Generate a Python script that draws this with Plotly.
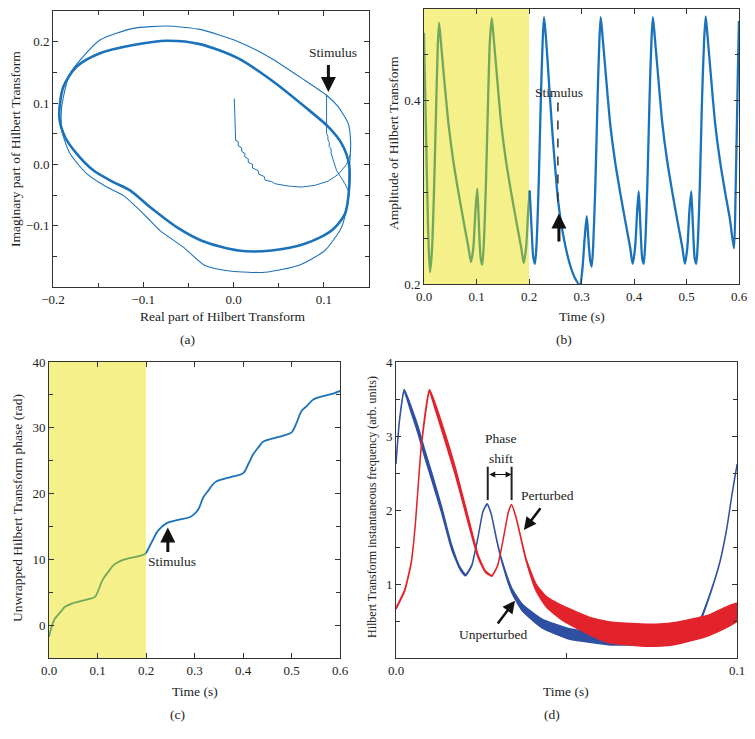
import plotly.graph_objects as go

SERIF = "Liberation Serif"
BLUE = "#1a72bb"
GREEN = "#72a85c"
YELLOW = "#f6f08a"
D_BLUE = "#2e4fa3"
D_RED = "#e3232b"

W, H = 755, 739
OFF = 8  # page body margin offsets the figure

# ---- (a) Hilbert transform phase portrait ----
loop_x = [-0.193, -0.1886, -0.174, -0.148, -0.111, -0.074, -0.0372, 0.0052, 0.042, 0.079,
          0.105, 0.1197, 0.1278, 0.1278, 0.1234, 0.1086, 0.079, 0.042, 0.0052, -0.0345,
          -0.063, -0.0926, -0.1147, -0.1332, -0.1554, -0.1738, -0.1867, -0.193]
loop_y = [0.077, 0.126, 0.159, 0.181, 0.1945, 0.2015, 0.196, 0.1727, 0.137, 0.0937,
          0.061, 0.0338, 0.001, -0.0425, -0.0806, -0.108, -0.1296, -0.1405, -0.1405, -0.125,
          -0.1024, -0.0697, -0.0425, -0.029, -0.0098, 0.0175, 0.0446, 0.077]

outer_x = [0.103, 0.116, 0.127, 0.1297, 0.128, 0.127, 0.1197, 0.1012, 0.0717, 0.0348, -0.0021,
           -0.0317, -0.0557, -0.0815, -0.0926, -0.1037, -0.122, -0.1405, -0.1627, -0.1812, -0.1904,
           -0.1904, -0.1812, -0.148, -0.111, -0.074, -0.0372, 0.0052, 0.042, 0.079, 0.103]
outer_y = [0.1127, 0.0937, 0.0665, 0.0338, -0.015, -0.059, -0.1024, -0.1405, -0.165, -0.176, -0.1743,
           -0.165, -0.135, -0.108, -0.0915, -0.075, -0.051, -0.037, -0.0152, 0.0175, 0.0556,
           0.0936, 0.148, 0.2026, 0.2217, 0.2255, 0.22, 0.2, 0.1727, 0.137, 0.1127]

trans_x = [0.0008, 0.0023, 0.0052, 0.0052, 0.009, 0.009, 0.0125, 0.0125, 0.0163, 0.0163, 0.021, 0.021,
           0.027, 0.028, 0.034, 0.035, 0.042, 0.0458, 0.0606, 0.0754, 0.090, 0.1049, 0.116, 0.1252, 0.1297]
trans_y = [0.1073, 0.039, 0.037, 0.030, 0.027, 0.021, 0.018, 0.012, 0.009, 0.003, 0.0, -0.006,
           -0.010, -0.016, -0.020, -0.026, -0.028, -0.0316, -0.0354, -0.0371, -0.0343, -0.0273, -0.0163, 0.0, 0.0175]

stim_x = [0.103, 0.103, 0.1045, 0.1045, 0.106, 0.106, 0.108, 0.108, 0.114, 0.1234, 0.1278]
stim_y = [0.1127, 0.05, 0.046, 0.040, 0.036, 0.029, 0.025, 0.018, -0.0098, -0.0316, -0.0452]

# ---- (b) amplitude of Hilbert transform ----
amp_t_pre = [0, 0.004, 0.008, 0.0114, 0.015, 0.019, 0.023, 0.026, 0.0286,
             0.0321, 0.0366, 0.0466, 0.0556, 0.0656, 0.0746, 0.0846, 0.0895,
             0.094, 0.098, 0.1015, 0.1045, 0.108, 0.111,
             0.114, 0.118, 0.122, 0.1255, 0.129,
             0.1325, 0.137, 0.147, 0.156, 0.166, 0.175, 0.185, 0.19,
             0.1945, 0.1985, 0.2013]
amp_v_pre = [0.474, 0.36, 0.255, 0.213, 0.235, 0.30, 0.39, 0.455, 0.485,
             0.465, 0.435, 0.375, 0.335, 0.300, 0.271, 0.24, 0.224,
             0.24, 0.28, 0.304, 0.265, 0.228, 0.221,
             0.245, 0.31, 0.40, 0.465, 0.490,
             0.47, 0.44, 0.375, 0.335, 0.300, 0.271, 0.24, 0.223,
             0.24, 0.28, 0.302]
amp_t_post = [0.2013, 0.2045, 0.208, 0.2114, 0.2145, 0.2185, 0.2225, 0.226, 0.2286,
              0.2321, 0.2368, 0.2432, 0.2495, 0.2558, 0.2653, 0.2781, 0.288, 0.297,
              0.3015, 0.306, 0.310, 0.313, 0.3165, 0.3194,
              0.3225, 0.3265, 0.3305, 0.334, 0.3366,
              0.3401, 0.3446, 0.3546, 0.3636, 0.3736, 0.3826, 0.3926, 0.3975,
              0.4021, 0.4061, 0.409, 0.4121, 0.4156, 0.4185,
              0.4215, 0.4255, 0.4295, 0.4332, 0.436,
              0.4395, 0.444, 0.454, 0.463, 0.473, 0.482, 0.492, 0.497,
              0.5016, 0.5056, 0.509, 0.5121, 0.5156, 0.5186,
              0.5215, 0.5255, 0.5295, 0.5335, 0.5366,
              0.5401, 0.5446, 0.5546, 0.5636, 0.5736, 0.5826, 0.5905,
              0.5935, 0.5962, 0.5985, 0.600]
amp_v_post = [0.302, 0.265, 0.23, 0.222, 0.245, 0.31, 0.40, 0.465, 0.491,
              0.47, 0.431, 0.376, 0.329, 0.289, 0.253, 0.221, 0.206, 0.199,
              0.215, 0.25, 0.274, 0.25, 0.226, 0.219,
              0.245, 0.31, 0.40, 0.465, 0.491,
              0.47, 0.44, 0.375, 0.335, 0.300, 0.271, 0.24, 0.222,
              0.24, 0.28, 0.301, 0.265, 0.228, 0.222,
              0.245, 0.31, 0.40, 0.465, 0.491,
              0.47, 0.44, 0.375, 0.335, 0.300, 0.271, 0.24, 0.222,
              0.24, 0.28, 0.301, 0.265, 0.228, 0.222,
              0.245, 0.31, 0.40, 0.465, 0.492,
              0.47, 0.44, 0.375, 0.335, 0.300, 0.271, 0.239,
              0.30, 0.38, 0.45, 0.487]

# ---- (c) unwrapped phase ----
ph_t_pre = [0, 0.0055, 0.0124, 0.0192, 0.026, 0.033, 0.047, 0.060, 0.081, 0.0948, 0.1017,
            0.107, 0.112, 0.122, 0.1326, 0.15, 0.1705, 0.191, 0.2]
ph_v_pre = [-1.77, -0.25, 1.0, 1.6, 2.2, 2.78, 3.28, 3.54, 3.94, 4.29, 5.3,
            6.3, 7.07, 8.08, 9.09, 9.85, 10.25, 10.6, 10.9]
ph_t_post = [0.2, 0.2117, 0.2254, 0.2427, 0.2666, 0.290, 0.300, 0.308, 0.318, 0.3285, 0.342,
             0.3594, 0.38, 0.4006, 0.411, 0.4213, 0.4316, 0.442, 0.4625, 0.483, 0.5004, 0.5107,
             0.521, 0.5313, 0.545, 0.5656, 0.586, 0.6]
ph_v_post = [10.9, 12.6, 14.4, 15.5, 16.0, 16.4, 16.9, 17.6, 19.4, 20.45, 21.7,
             22.2, 22.6, 23.1, 24.5, 26.0, 27.0, 27.9, 28.4, 28.8, 29.3, 30.8,
             32.6, 33.3, 34.3, 34.8, 35.2, 35.6]

# ---- (d) instantaneous frequency, band = spread over cycles ----
unp_t = [0.0, 0.001, 0.0024, 0.0045, 0.0066, 0.0085, 0.0105, 0.0134, 0.0163, 0.0188, 0.0204,
         0.0222, 0.024, 0.0255, 0.0267, 0.0279, 0.0295, 0.031, 0.0339, 0.0369, 0.0427, 0.0505,
         0.0623, 0.072, 0.0818, 0.0872, 0.0891, 0.092, 0.095, 0.097, 0.0985, 0.1]
unp_v = [2.63, 3.2, 3.61, 3.35, 3.06, 2.75, 2.45, 2.0, 1.50, 1.21, 1.12,
         1.25, 1.62, 1.98, 2.08, 1.95, 1.60, 1.32, 0.92, 0.69, 0.47, 0.33,
         0.25, 0.25, 0.33, 0.42, 0.50, 0.85, 1.30, 1.75, 2.2, 2.62]
unp_spread = [0.01, 0.01, 0.02, 0.04, 0.05, 0.05, 0.05, 0.04, 0.03, 0.015, 0.01,
              0.005, 0.004, 0.004, 0.004, 0.004, 0.006, 0.012, 0.03, 0.045, 0.06, 0.07,
              0.07, 0.07, 0.05, 0.03, 0.02, 0.01, 0.005, 0.004, 0.004, 0.004]

per_t = [0.0, 0.0026, 0.0045, 0.0056, 0.0075, 0.0098, 0.0115, 0.0134, 0.0173, 0.0212, 0.0241,
         0.0262, 0.0281, 0.0298, 0.0315, 0.033, 0.0339, 0.0352, 0.0382, 0.0411, 0.0441, 0.0491,
         0.0574, 0.0623, 0.072, 0.0774, 0.0818, 0.0916, 0.1]
per_v = [0.67, 0.92, 1.3, 1.77, 2.9, 3.61, 3.4, 3.13, 2.54, 1.86, 1.37,
         1.17, 1.11, 1.25, 1.62, 1.98, 2.07, 1.90, 1.32, 0.95, 0.76, 0.60,
         0.42, 0.35, 0.31, 0.31, 0.33, 0.44, 0.62]
per_spread = [0.01, 0.01, 0.01, 0.01, 0.015, 0.02, 0.04, 0.05, 0.05, 0.04, 0.02,
              0.01, 0.006, 0.004, 0.004, 0.004, 0.004, 0.005, 0.015, 0.045, 0.07, 0.10,
              0.12, 0.14, 0.15, 0.15, 0.15, 0.14, 0.12]


def band(t, v, s):
    xs = list(t) + list(t)[::-1]
    ys = [a + b for a, b in zip(v, s)] + [a - b for a, b in zip(v, s)][::-1]
    return xs, ys


def dom_x(left, right):
    return [(left - OFF) / W, (right - OFF) / W]


def dom_y(top, bottom):
    return [1 - (bottom - OFF) / H, 1 - (top - OFF) / H]


fig = go.Figure()

# (a)
fig.add_trace(go.Scatter(x=outer_x, y=outer_y, mode="lines", line=dict(color=BLUE, width=1.1, shape="spline", smoothing=0.6), xaxis="x", yaxis="y"))
fig.add_trace(go.Scatter(x=loop_x, y=loop_y, mode="lines", line=dict(color=BLUE, width=2.6, shape="spline", smoothing=0.8), xaxis="x", yaxis="y"))
fig.add_trace(go.Scatter(x=trans_x, y=trans_y, mode="lines", line=dict(color=BLUE, width=1), xaxis="x", yaxis="y"))
fig.add_trace(go.Scatter(x=stim_x, y=stim_y, mode="lines", line=dict(color=BLUE, width=1), xaxis="x", yaxis="y"))

# (b)
fig.add_trace(go.Scatter(x=amp_t_pre, y=amp_v_pre, mode="lines", line=dict(color=GREEN, width=2.3, shape="spline", smoothing=0.7), xaxis="x2", yaxis="y2"))
fig.add_trace(go.Scatter(x=amp_t_post, y=amp_v_post, mode="lines", line=dict(color=BLUE, width=2.3, shape="spline", smoothing=0.7), xaxis="x2", yaxis="y2"))

# (c)
fig.add_trace(go.Scatter(x=ph_t_pre, y=ph_v_pre, mode="lines", line=dict(color=GREEN, width=1.8, shape="spline"), xaxis="x3", yaxis="y3"))
fig.add_trace(go.Scatter(x=ph_t_post, y=ph_v_post, mode="lines", line=dict(color=BLUE, width=1.8, shape="spline"), xaxis="x3", yaxis="y3"))

# (d)
bx, by = band(unp_t, unp_v, unp_spread)
fig.add_trace(go.Scatter(x=bx, y=by, mode="lines", fill="toself", fillcolor=D_BLUE,
                         line=dict(color=D_BLUE, width=1.4, shape="spline", smoothing=0.5), xaxis="x4", yaxis="y4"))
rx, ry = band(per_t, per_v, per_spread)
fig.add_trace(go.Scatter(x=rx, y=ry, mode="lines", fill="toself", fillcolor=D_RED,
                         line=dict(color=D_RED, width=1.4, shape="spline", smoothing=0.5), xaxis="x4", yaxis="y4"))


def ax(**kw):
    d = dict(showline=True, linecolor="#333", linewidth=1, mirror="ticks", ticks="inside", ticklen=5,
             tickcolor="#333", showgrid=False, zeroline=False, automargin=False,
             tickfont=dict(family=SERIF, size=13, color="#222"))
    d.update(kw)
    return d


def minor(vals):
    return dict(tickmode="array", tickvals=vals, ticks="inside", ticklen=4, tickcolor="#333")


fig.update_layout(
    width=W, height=H, autosize=False, showlegend=False,
    margin=dict(l=0, r=0, t=0, b=0),
    paper_bgcolor="white", plot_bgcolor="white",
    xaxis=ax(domain=dom_x(53, 369), anchor="y", range=[-0.2, 0.15],
             tickvals=[-0.2, -0.1, 0, 0.1], ticktext=["\u22120.2", "\u22120.1", "0.0", "0.1"],
             minor=minor([-0.15, -0.05, 0.05])),
    yaxis=ax(domain=dom_y(11, 287), anchor="x", range=[-0.2, 0.25],
             tickvals=[-0.1, 0, 0.1, 0.2], ticktext=["\u22120.1", "0.0", "0.1", "0.2"],
             minor=minor([-0.15, -0.05, 0.05, 0.15])),
    xaxis2=ax(domain=dom_x(424, 739), anchor="y2", range=[0, 0.6],
              tickvals=[0, 0.1, 0.2, 0.3, 0.4, 0.5, 0.6],
              ticktext=["0.0", "0.1", "0.2", "0.3", "0.4", "0.5", "0.6"]),
    yaxis2=ax(domain=dom_y(9, 284), anchor="x2", range=[0.2, 0.5],
              tickvals=[0.2, 0.4], ticktext=["0.2", "0.4"],
              minor=minor([0.25, 0.3, 0.35, 0.45])),
    xaxis3=ax(domain=dom_x(49, 340), anchor="y3", range=[0, 0.6],
              tickvals=[0, 0.1, 0.2, 0.3, 0.4, 0.5, 0.6],
              ticktext=["0.0", "0.1", "0.2", "0.3", "0.4", "0.5", "0.6"]),
    yaxis3=ax(domain=dom_y(362, 658), anchor="x3", range=[-5, 40],
              tickvals=[0, 10, 20, 30, 40], ticktext=["0", "10", "20", "30", "40"],
              minor=minor([5, 15, 25, 35])),
    xaxis4=ax(domain=dom_x(396, 737), anchor="y4", range=[0, 0.1], mirror=True,
              tickvals=[0, 0.05, 0.1], ticktext=["0.0", "", "0.1"]),
    xaxis5=dict(overlaying="x4", side="top", anchor="y4", range=[0, 0.1], showgrid=False, zeroline=False,
                showline=False, ticks="inside", ticklen=5, tickcolor="#333", showticklabels=False,
                automargin=False, tickvals=[0.02, 0.04, 0.06, 0.08]),
    yaxis4=ax(domain=dom_y(362, 658), anchor="x4", range=[0, 4],
              tickvals=[1, 2, 3, 4], ticktext=["1", "2", "3", "4"],
              minor=minor([0.5, 1.5, 2.5, 3.5])),
)

# shaded pre-stimulus windows
for xr, yr in (("x2", "y2 domain"), ("x3", "y3 domain")):
    fig.add_shape(type="rect", xref=xr, yref=yr, x0=0, x1=0.2, y0=0, y1=1,
                  fillcolor=YELLOW, line=dict(width=0), layer="below")

fig.add_shape(type="line", xref="x2", yref="y2", x0=0.255, x1=0.255, y0=0.398, y1=0.283,
              line=dict(color="#333", width=1.5, dash="dash"))
for xv in (0.0269, 0.0339):
    fig.add_shape(type="line", xref="x4", yref="y4", x0=xv, x1=xv, y0=2.135, y1=2.585,
                  line=dict(color="#222", width=2))

ann = []
TF = dict(family=SERIF, size=13.5, color="#222")


def paper_text(text, px, py, angle=0, size=13.5):
    ann.append(dict(text=text, x=(px - OFF) / W, y=1 - (py - OFF) / H, xref="paper", yref="paper",
                    showarrow=False, textangle=angle, xanchor="center", yanchor="middle",
                    font=dict(family=SERIF, size=size, color="#222")))


def arrow(xr, yr, hx, hy, tx, ty, width=3, size=1.0, head=2, side="end"):
    ann.append(dict(text="", x=hx, y=hy, ax=tx, ay=ty, xref=xr, yref=yr, axref=xr, ayref=yr,
                    showarrow=True, arrowhead=head, arrowsize=size, arrowwidth=width,
                    arrowcolor="#111", arrowside=side, startarrowhead=head, startarrowsize=size))


def data_text(text, xr, yr, x, y):
    ann.append(dict(text=text, x=x, y=y, xref=xr, yref=yr, showarrow=False, font=TF))


paper_text("Imaginary part of Hilbert Transform", 15, 149, -90)
paper_text("Real part of Hilbert Transform", 222, 316)
paper_text("(a)", 187, 339)
paper_text("Amplitude of Hilbert Transform", 393, 143, -90)
paper_text("Time (s)", 582, 316)
paper_text("(b)", 564, 339)
paper_text("Unwrapped Hilbert Transform phase (rad)", 17, 508, -90)
paper_text("Time (s)", 195, 691)
paper_text("(c)", 177, 714)
paper_text("Hilbert Transform instantaneous frequency (arb. units)", 372, 507, -90, 12)
paper_text("Time (s)", 566, 691)
paper_text("(d)", 552, 714)

data_text("Stimulus", "x", "y", 0.1105, 0.182)
arrow("x", "y", 0.105, 0.118, 0.105, 0.1645)
data_text("Stimulus", "x2", "y2", 0.257, 0.409)
arrow("x2", "y2", 0.257, 0.277, 0.257, 0.2446)
data_text("Stimulus", "x3", "y3", 0.2536, 9.7)
arrow("x3", "y3", 0.245, 14.85, 0.245, 10.9)

data_text("Phase", "x4", "y4", 0.0308, 2.97)
data_text("shift", "x4", "y4", 0.0308, 2.69)
arrow("x4", "y4", 0.0339, 2.48, 0.0269, 2.48, width=1.2, size=1.0, head=2, side="end+start")
data_text("Perturbed", "x4", "y4", 0.0445, 2.19)
arrow("x4", "y4", 0.0375, 1.73, 0.0427, 2.045, width=2.5)
data_text("Unperturbed", "x4", "y4", 0.0285, 0.32)
arrow("x4", "y4", 0.0349, 0.775, 0.0295, 0.446, width=2.5)

fig.update_layout(annotations=ann)
fig.write_html("out.html")
